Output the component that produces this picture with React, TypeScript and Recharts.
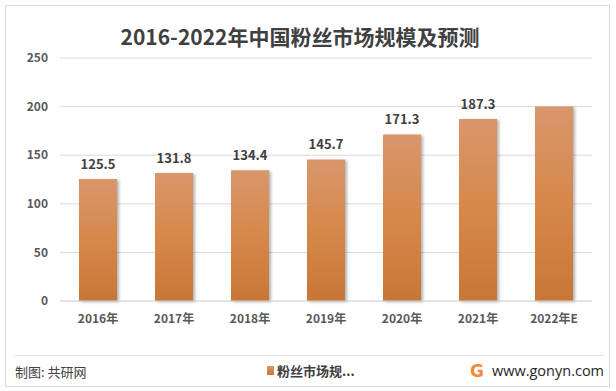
import React from 'react';
import { BarChart, Bar, XAxis, YAxis, CartesianGrid, LabelList, Legend } from 'recharts';

const categories = ['2016年', '2017年', '2018年', '2019年', '2020年', '2021年', '2022年E'];
const marketSize = [125.5, 131.8, 134.4, 145.7, 171.3, 187.3, 200];
const valueLabels = ['125.5', '131.8', '134.4', '145.7', '171.3', '187.3', ''];
const yTicks = [0, 50, 100, 150, 200, 250];
const seriesName = '粉丝市场规模';

const data = categories.map((c, i) => ({ name: c, value: marketSize[i], label: valueLabels[i] }));

const FONT = '"Noto Sans CJK SC", "Noto Sans", sans-serif';

const LegendContent = () => (
  <div style={{ display: 'flex', alignItems: 'center', fontFamily: FONT, fontSize: 13, fontWeight: 600, color: '#404040', height: 20 }}>
    <span style={{ width: 7, height: 9, background: 'linear-gradient(#D9956A,#C97838)', display: 'inline-block', marginRight: 3 }} />
    <span>粉丝市场规...</span>
  </div>
);

export default function App() {
  return (
    <div style={{ position: 'absolute', left: 0, top: 0, width: 616, height: 391, background: '#fff', fontFamily: FONT }}>
      <div style={{ position: 'absolute', left: 5, top: 5, width: 603, height: 380, border: '1px solid #D9D9D9' }} />
      <div style={{ position: 'absolute', left: 0, top: 22, width: 600, textAlign: 'center', fontSize: 21, fontWeight: 700, color: '#404040', lineHeight: '28px' }}>
        2016-2022年中国粉丝市场规模及预测
      </div>
      <div style={{ position: 'absolute', left: 15, top: 355, width: 589, height: 1, background: '#E3E3E3' }} />
      <div style={{ position: 'absolute', left: 15, top: 362, fontSize: 13, color: '#404040', lineHeight: '20px' }}>制图: 共研网</div>
      <div style={{ position: 'absolute', left: 470, top: 360, display: 'flex', alignItems: 'center', lineHeight: '22px' }}>
        <span style={{ fontSize: 17, fontWeight: 900, color: '#F08A3C', fontFamily: 'DejaVu Sans, sans-serif', marginRight: 8 }}>G</span>
        <span style={{ fontSize: 14.5, color: '#262626', fontFamily: '"Open Sans", "Noto Sans", sans-serif' }}>www.gonyn.com</span>
      </div>
      <BarChart
        width={616}
        height={391}
        data={data}
        margin={{ top: 58, right: 24, bottom: 0, left: 0 }}
        style={{ position: 'absolute', left: 0, top: 0 }}
      >
        <defs>
          <linearGradient id="barGrad" x1="0" y1="0" x2="0" y2="1">
            <stop offset="0%" stopColor="#D9966C" />
            <stop offset="50%" stopColor="#D6884A" />
            <stop offset="100%" stopColor="#C87636" />
          </linearGradient>
          <filter id="barShadow" x="-20%" y="-5%" width="150%" height="110%">
            <feDropShadow dx="2" dy="1" stdDeviation="1.5" floodColor="#000" floodOpacity="0.3" />
          </filter>
        </defs>
        <CartesianGrid vertical={false} stroke="#D9D9D9" />
        <XAxis
          dataKey="name"
          axisLine={{ stroke: '#D9D9D9' }}
          tickLine={false}
          tickSize={0}
          tickMargin={13}
          height={70}
          tick={{ fontSize: 12, fill: '#595959', fontWeight: 600, fontFamily: FONT }}
          interval={0}
        />
        <YAxis
          domain={[0, 250]}
          ticks={yTicks}
          axisLine={false}
          tickLine={false}
          width={60}
          tickSize={0}
          tickMargin={12}
          tick={{ fontSize: 12, fill: '#595959', fontWeight: 600, fontFamily: FONT }}
        />
        <Legend
          content={<LegendContent />}
          wrapperStyle={{ position: 'absolute', left: 267, top: 360, width: 'auto', height: 20 }}
        />
        <Bar
          dataKey="value"
          name={seriesName}
          fill="url(#barGrad)"
          barSize={38}
          filter="url(#barShadow)"
          isAnimationActive={false}
        >
          <LabelList dataKey="label" position="top" offset={10} style={{ fontSize: 13, fill: '#404040', fontWeight: 600, fontFamily: FONT }} />
        </Bar>
      </BarChart>
    </div>
  );
}
